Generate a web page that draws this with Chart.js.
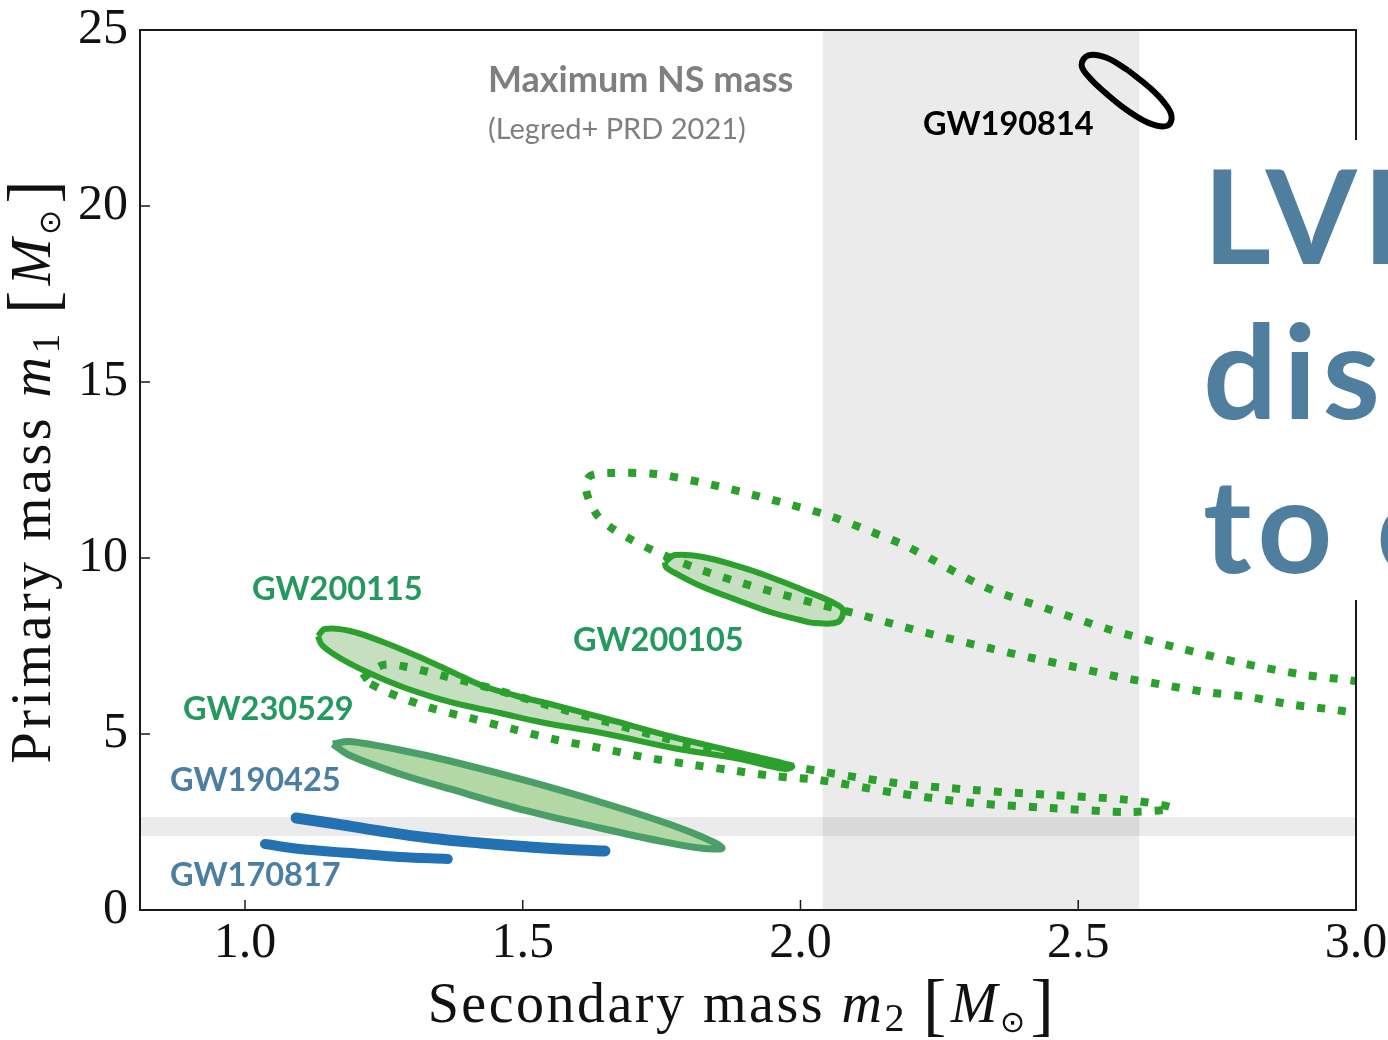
<!DOCTYPE html>
<html>
<head>
<meta charset="utf-8">
<script src="https://cdn.jsdelivr.net/npm/chart.js@4.4.1/dist/chart.umd.min.js"></script>
<style>
  html, body { margin: 0; padding: 0; background: #fff; }
  #wrap { width: 1388px; height: 1040px; position: relative; }
</style>
</head>
<body>
<div id="wrap"><canvas id="massplane" width="1388" height="1040"></canvas></div>
<script>
// Axis ranges and ticks (solar masses)
const xRange = [0.811, 3.0];
const yRange = [0, 25];
const xTickValues = [1.0, 1.5, 2.0, 2.5, 3.0];
const yTickValues = [0, 5, 10, 15, 20, 25];

// Maximum neutron-star mass interval (Legred+ PRD 2021)
const nsBandSecondary = [2.04, 2.61];
const nsBandPrimary = [2.10, 2.64];

// Credible-region contours as [m2, m1] pairs
const gw190814 = [[2.590,23.85],[2.628,23.37],[2.655,22.93],[2.668,22.55],[2.660,22.28],[2.630,22.34],[2.590,22.70],[2.550,23.20],[2.520,23.65],[2.506,24.00],[2.518,24.28],[2.550,24.22],[2.590,23.85]];
const gw170817 = [[1.036,1.875],[1.099,1.733],[1.189,1.619],[1.279,1.506],[1.365,1.449]];
const gw190425 = [[1.092,2.614],[1.153,2.472],[1.243,2.244],[1.333,2.045],[1.423,1.903],[1.513,1.790],[1.603,1.705],[1.648,1.676]];
const gw230529 = [[1.158,4.716],[1.189,4.787],[1.279,4.545],[1.369,4.233],[1.508,3.665],[1.639,3.068],[1.747,2.528],[1.819,2.102],[1.859,1.761],[1.819,1.761],[1.747,1.960],[1.639,2.330],[1.508,2.813],[1.369,3.438],[1.279,3.864],[1.189,4.389],[1.158,4.716]];
const gw200115 = [[1.1314,7.784],[1.1440,7.983],[1.1890,7.926],[1.2484,7.614],[1.3096,7.216],[1.3690,6.790],[1.4284,6.364],[1.4897,6.080],[1.5491,5.852],[1.6517,5.426],[1.7705,4.915],[1.8911,4.460],[1.9847,4.091],[1.9721,4.006],[1.8911,4.290],[1.7705,4.602],[1.6517,5.000],[1.5311,5.341],[1.4590,5.597],[1.3996,5.795],[1.3384,6.051],[1.2790,6.364],[1.2196,6.761],[1.1710,7.159],[1.1386,7.528],[1.1314,7.784]];
const gw200115Alt = [[1.2106,6.563],[1.2484,6.960],[1.2916,6.903],[1.3654,6.619],[1.4410,6.307],[1.5311,5.881],[1.6391,5.398],[1.7471,4.915],[1.8551,4.489],[1.9811,4.091],[2.1719,3.608],[2.3123,3.409],[2.4509,3.267],[2.5914,3.125],[2.6688,2.898],[2.5914,2.784],[2.4509,2.898],[2.3123,3.040],[2.1719,3.324],[2.0333,3.693],[1.9505,3.807],[1.8731,3.977],[1.7957,4.148],[1.7165,4.347],[1.6391,4.602],[1.5617,4.830],[1.4825,5.142],[1.4050,5.455],[1.3294,5.767],[1.2556,6.193],[1.2106,6.563]];
const gw200105 = [[1.7561,9.886],[1.7741,10.085],[1.8245,10.028],[1.8857,9.773],[1.9451,9.460],[2.0045,9.091],[2.0567,8.750],[2.0765,8.523],[2.0675,8.182],[2.0261,8.153],[1.9991,8.239],[1.9451,8.466],[1.8857,8.807],[1.8245,9.176],[1.7777,9.545],[1.7579,9.744],[1.7561,9.886]];
const gw200105Alt = [[3.0792,6.307],[2.9856,6.534],[2.9082,6.676],[2.7930,7.017],[2.6742,7.472],[2.5590,7.955],[2.4509,8.523],[2.3321,9.176],[2.1935,10.313],[2.1197,10.795],[2.0477,11.222],[1.9703,11.563],[1.8947,11.875],[1.8173,12.159],[1.7399,12.386],[1.6607,12.415],[1.6211,12.330],[1.6139,11.932],[1.6337,11.222],[1.6625,10.824],[1.6967,10.511],[1.7327,10.227],[1.8065,9.744],[1.8821,9.347],[1.9577,9.006],[2.0315,8.693],[2.1089,8.381],[2.1863,8.040],[2.2637,7.727],[2.3393,7.443],[2.4167,7.159],[2.4941,6.903],[2.5734,6.619],[2.6544,6.392],[2.7300,6.193],[2.8074,6.051],[2.8884,5.824],[2.9640,5.682],[3.0792,5.398]];

// Text placed in the plane, anchored at [m2, m1] (left edge, baseline)
const eventNames = ['GW190814', 'GW200115', 'GW200105', 'GW230529', 'GW190425', 'GW170817'];
const eventNameAnchors = [[2.2205,22.02],[1.0126,8.807],[1.5905,7.358],[0.8884,5.398],[0.8650,3.381],[0.8650,0.682]];
const eventNameColors = ['#000000', '#23985f', '#23985f', '#23985f', '#4a7ea3', '#4a7ea3'];
const bandTitle = 'Maximum NS mass';
const bandSource = '(Legred+ PRD 2021)';
const bandTitleAnchor = [1.4374, 23.24];
const bandSourceAnchor = [1.4374, 21.90];
const headlineLines = ['LVK', 'disc', 'to c'];

const pts = arr => arr.map(([x, y]) => ({x, y}));

const GREEN = '#2ca02c';
const BLUE = '#2271b3';

const datasets = [
  { label: 'GW190814', data: pts(gw190814), borderColor: '#000', borderWidth: 6, tension: 0.4, order: 0 },
  { label: 'GW200115 alt', data: pts(gw200115Alt), borderColor: GREEN, borderWidth: 8, borderDash: [8, 13], borderCapStyle: 'butt', tension: 0.3, order: 1 },
  { label: 'GW200105 alt', data: pts(gw200105Alt), borderColor: GREEN, borderWidth: 8, borderDash: [8, 13], borderCapStyle: 'butt', tension: 0.3, order: 1, clip: 0 },
  { label: 'GW200105', data: pts(gw200105), borderColor: GREEN, backgroundColor: '#c6dfc0', fill: 'shape', borderWidth: 6, tension: 0.35, order: 2 },
  { label: 'GW200115', data: pts(gw200115), borderColor: GREEN, backgroundColor: '#c6dfc0', fill: 'shape', borderWidth: 6, tension: 0.35, order: 3 },
  { label: 'GW170817', data: pts(gw170817), borderColor: BLUE, borderWidth: 10, borderCapStyle: 'round', tension: 0.4, order: 4 },
  { label: 'GW190425', data: pts(gw190425), borderColor: BLUE, borderWidth: 11, borderCapStyle: 'round', tension: 0.4, order: 4 },
  { label: 'GW230529', data: pts(gw230529), borderColor: '#4a9e68', backgroundColor: '#b4d8a5', fill: 'shape', borderWidth: 7, tension: 0.35, order: 5 }
];
datasets.forEach(d => { d.showLine = true; d.pointRadius = 0; d.borderJoinStyle = 'round'; });

const SERIF = '"Liberation Serif", "DejaVu Serif", serif';

function drawRich(ctx, parts, x, y) {
  let cx = x;
  for (const p of parts) {
    ctx.font = p.font;
    ctx.fillText(p.t, cx, y + (p.dy || 0));
    cx += ctx.measureText(p.t).width + (p.gap || 0);
  }
}
function richWidth(ctx, parts) {
  let w = 0;
  for (const p of parts) { ctx.font = p.font; w += ctx.measureText(p.t).width + (p.gap || 0); }
  return w;
}
function axisTitleParts(word, sub) {
  return [
    { t: word + ' ', font: `56px ${SERIF}` },
    { t: 'm', font: `italic 56px ${SERIF}` },
    { t: sub, font: `40px ${SERIF}`, dy: 9, gap: 16 },
    { t: '[', font: `70px ${SERIF}`, dy: 6, gap: 2 },
    { t: 'M', font: `italic 56px ${SERIF}` },
    { t: '\u2299', font: `30px "DejaVu Sans"`, dy: 10, gap: 3 },
    { t: ']', font: `70px ${SERIF}`, dy: 6 }
  ];
}

const decor = {
  id: 'decor',
  beforeDatasetsDraw(chart) {
    const { ctx, chartArea: a, scales: { x, y } } = chart;
    ctx.save();
    ctx.beginPath(); ctx.rect(a.left, a.top, a.width, a.height); ctx.clip();
    ctx.fillStyle = 'rgba(0,0,0,0.078)';
    const bx0 = x.getPixelForValue(nsBandSecondary[0]);
    const bx1 = x.getPixelForValue(nsBandSecondary[1]);
    ctx.fillRect(bx0, a.top, bx1 - bx0, a.height);
    const by0 = y.getPixelForValue(nsBandPrimary[1]);
    const by1 = y.getPixelForValue(nsBandPrimary[0]);
    ctx.fillRect(a.left, by0, a.width, by1 - by0);
    ctx.restore();
  },
  afterDatasetsDraw(chart) {
    const { ctx, chartArea: a, scales: { x, y } } = chart;
    ctx.save();
    // frame
    ctx.strokeStyle = '#1a1a1a';
    ctx.lineWidth = 2;
    ctx.strokeRect(a.left, a.top, a.width, a.height);
    // inward tick marks
    ctx.lineWidth = 1.5;
    ctx.beginPath();
    x.ticks.forEach(t => { const px = x.getPixelForValue(t.value); ctx.moveTo(px, a.bottom); ctx.lineTo(px, a.bottom - 10); });
    y.ticks.forEach(t => { const py = y.getPixelForValue(t.value); ctx.moveTo(a.left, py); ctx.lineTo(a.left + 10, py); });
    ctx.stroke();

    // labels in the plane
    ctx.textAlign = 'left';
    ctx.textBaseline = 'alphabetic';
    ctx.fillStyle = '#7f7f7f';
    ctx.font = 'bold 36px Lato';
    ctx.fillText(bandTitle, x.getPixelForValue(bandTitleAnchor[0]), y.getPixelForValue(bandTitleAnchor[1]));
    ctx.font = '29px Lato';
    ctx.fillText(bandSource, x.getPixelForValue(bandSourceAnchor[0]), y.getPixelForValue(bandSourceAnchor[1]));
    ctx.font = 'bold 32.5px Lato';
    eventNames.forEach((name, i) => {
      ctx.fillStyle = eventNameColors[i];
      ctx.fillText(name, x.getPixelForValue(eventNameAnchors[i][0]), y.getPixelForValue(eventNameAnchors[i][1]));
    });
    ctx.restore();
  },
  afterDraw(chart) {
    const { ctx, chartArea: a } = chart;
    ctx.save();
    // headline panel over the right edge
    ctx.fillStyle = '#ffffff';
    ctx.fillRect(1190, 140, chart.width - 1190, 460);
    ctx.fillStyle = '#4f7e9e';
    ctx.font = 'bold 131px Lato';
    ctx.letterSpacing = '6px';
    ctx.textBaseline = 'alphabetic';
    headlineLines.forEach((line, i) => ctx.fillText(line, 1203, 264 + i * 154.5));

    // axis titles
    ctx.fillStyle = '#111';
    ctx.letterSpacing = '2.5px';
    const xt = axisTitleParts('Secondary mass', '2');
    const cx = (a.left + a.right) / 2 - 6;
    drawRich(ctx, xt, cx - richWidth(ctx, xt) / 2, 1022);
    ctx.letterSpacing = '3.5px';
    const yt = axisTitleParts('Primary mass', '1');
    ctx.translate(50, (a.top + a.bottom) / 2);
    ctx.rotate(-Math.PI / 2);
    drawRich(ctx, yt, -richWidth(ctx, yt) / 2, 0);
    ctx.restore();
  }
};

new Chart(document.getElementById('massplane'), {
  type: 'scatter',
  data: { datasets },
  options: {
    responsive: false,
    animation: false,
    layout: { padding: { top: 30, right: 32, left: 0, bottom: 0 } },
    plugins: { legend: { display: false }, tooltip: { enabled: false } },
    scales: {
      x: {
        type: 'linear', min: xRange[0], max: xRange[1],
        afterBuildTicks: s => { s.ticks = xTickValues.map(v => ({ value: v })); },
        afterFit: s => { s.height = 130; s.paddingLeft = 0; s.paddingRight = 0; },
        grid: { display: false, drawTicks: false },
        border: { display: false },
        ticks: { padding: 4, color: '#111', font: { family: SERIF, size: 50 }, callback: v => v.toFixed(1), maxRotation: 0, autoSkip: false }
      },
      y: {
        type: 'linear', min: yRange[0], max: yRange[1],
        afterBuildTicks: s => { s.ticks = yTickValues.map(v => ({ value: v })); },
        afterFit: s => { s.width = 140; s.paddingTop = 0; s.paddingBottom = 0; },
        grid: { display: false, drawTicks: false },
        border: { display: false },
        ticks: { padding: 12, color: '#111', font: { family: SERIF, size: 50 }, callback: v => String(v), autoSkip: false }
      }
    }
  },
  plugins: [decor]
});
</script>
</body>
</html>
